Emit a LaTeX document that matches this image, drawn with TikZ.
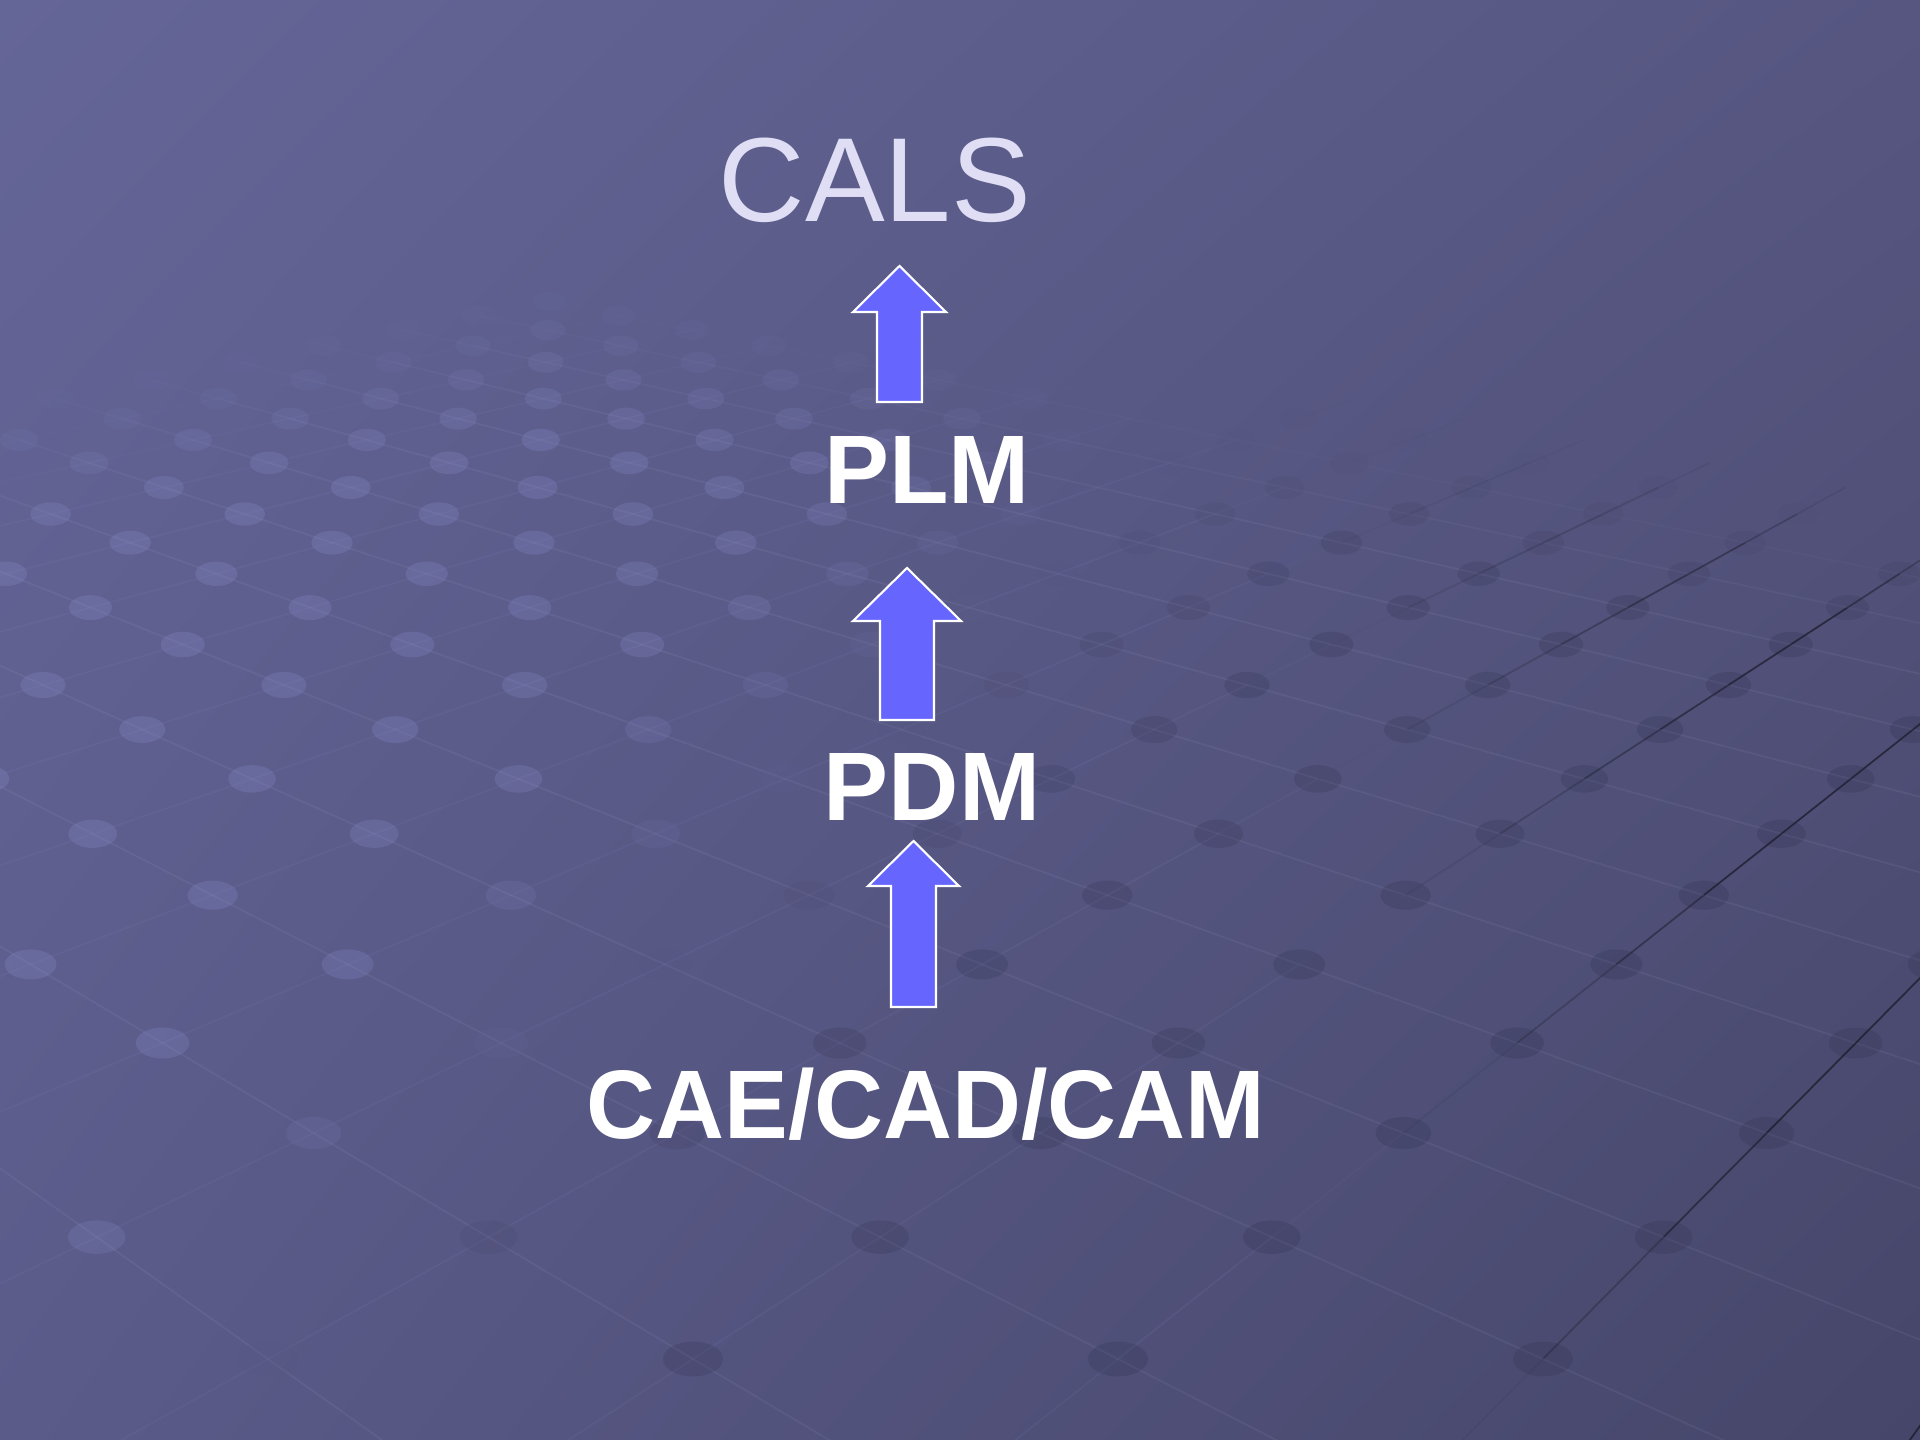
\documentclass[tikz,border=0pt]{standalone}
\usepackage{fontspec}
\setmainfont{Liberation Sans}
\usetikzlibrary{shadings}

\definecolor{bgtopleft}{RGB}{101,102,152}
\definecolor{bgtopright}{RGB}{86,86,129}
\definecolor{bgbottomleft}{RGB}{90,91,137}
\definecolor{bgbottomright}{RGB}{70,70,106}
\definecolor{dotlight}{RGB}{150,152,220}
\definecolor{dotdark}{RGB}{30,30,55}
\definecolor{arrowfill}{RGB}{102,102,255}
\definecolor{calstext}{RGB}{224,222,245}

% centre x, tip y, head base y, bottom y, head half width, shaft half width
\newcommand{\levelarrow}[6]{%
  \draw[levelarrowstyle] (#1,#2) -- (#1+#5,#3) -- (#1+#6,#3) -- (#1+#6,#4)
    -- (#1-#6,#4) -- (#1-#6,#3) -- (#1-#5,#3) -- cycle;
}

\begin{document}
\begin{tikzpicture}[x=0.01cm,y=-0.01cm,
    levelarrowstyle/.style={fill=arrowfill,draw=white,line width=0.6pt,line join=miter},
    levellabel/.style={anchor=base,text=white,font=\fontsize{27.7}{32}\selectfont\bfseries}]
  \useasboundingbox (0,0) rectangle (1920,1440);
  % Background
  \shade[upper left=bgtopleft,upper right=bgtopright,lower left=bgbottomleft,lower right=bgbottomright]
    (0,0) rectangle (1920,1440);
  % Floor grid in perspective
  \begin{scope}
    \clip (0,0) rectangle (1920,1440);
    \foreach \u in {-2,...,28} {
      \foreach \v in {-4,...,22} {
        \pgfmathsetmacro\gw{1+0.085*(\u+\v)}
        \pgfmathsetmacro\gx{(693+262*\u-163*\v)/\gw}
        \pgfmathsetmacro\gy{(1359-16.66*(\u+\v))/\gw}
        \pgfmathsetmacro\gtop{\gx<551 ? 390-0.207*\gx : 276+0.1738*(\gx-551)}
        \pgfmathsetmacro\ga{min(1,max(0,(\gy-\gtop)/150))}
        \pgfmathparse{(\ga>0)&&(\gx>-300)&&(\gx<2200)&&(\gy<1700) ? 1 : 0}
        \ifdim\pgfmathresult pt>0.5pt
          \pgfmathsetmacro\gxa{(693+262*(\u+1)-163*\v)/(\gw+0.085)}
          \pgfmathsetmacro\gxb{(693+262*\u-163*(\v+1))/(\gw+0.085)}
          \pgfmathsetmacro\gyn{(1359-16.66*(\u+\v+1))/(\gw+0.085)}
          \pgfmathsetmacro\gk{100*min(1,max(0,(\gx-1000)/700))}
          \pgfmathsetmacro\gol{0.08*\ga}
          \pgfmathsetmacro\gor{(0.08+0.004*\gk)*\ga}
          \draw[line width=0.5pt,dotlight!60!white,opacity=\gol] (\gx,\gy) -- (\gxb,\gyn);
          \draw[line width=0.5pt,black!\gk!dotlight,opacity=\gor] (\gx,\gy) -- (\gxa,\gyn);
          % dot
          \pgfmathsetmacro\gd{100*min(1,max(0,(\gx+\gy-1300)/600))}
          \pgfmathsetmacro\god{(0.2-0.0005*\gd)*\ga}
          \pgfmathsetmacro\grx{30/sqrt(\gw)}
          \pgfmathsetmacro\gry{0.58*\grx}
          \fill[dotdark!\gd!dotlight,opacity=\god] (\gx,\gy) ellipse [x radius=\grx,y radius=\gry];
        \fi
      }
    }
  \end{scope}
  % Levels
  \node[anchor=base,text=calstext,font=\fontsize{34}{40}\selectfont] (cals) at (875,222) {CALS};
  \node[levellabel] (plm) at (927,504) {PLM};
  \node[levellabel] (pdm) at (932,821) {PDM};
  \node[levellabel,xscale=0.98] (cax) at (926,1139) {CAE/CAD/CAM};
  % Arrows between levels
  \levelarrow{899.5}{266}{312}{402}{46.5}{22.5}
  \levelarrow{907}{568}{621}{720}{54}{27}
  \levelarrow{913.5}{841}{886}{1007}{45.5}{22.5}
\end{tikzpicture}
\end{document}
